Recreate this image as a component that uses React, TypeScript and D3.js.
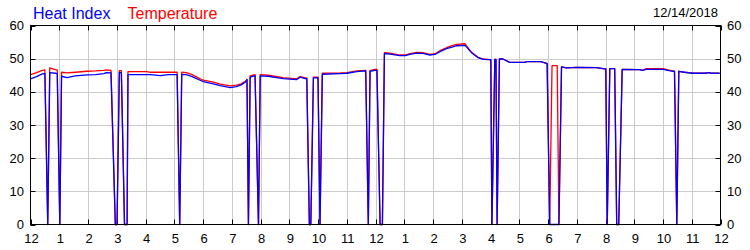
import React from "react";
import * as d3 from "d3";

const hours = [
  0.0, 0.21, 0.41, 0.5, 0.6, 0.67, 0.87, 0.93, 1.02, 1.08,
  1.27, 1.56, 1.97, 2.26, 2.55, 2.64, 2.8, 2.95, 3.01, 3.09,
  3.16, 3.27, 3.36, 3.39, 4.05, 4.17, 4.52, 4.79, 5.1, 5.19,
  5.26, 5.42, 5.62, 5.9, 6.01, 6.36, 6.6, 6.95, 7.16, 7.33,
  7.47, 7.53, 7.58, 7.64, 7.81, 7.93, 7.99, 8.27, 8.79, 9.26,
  9.38, 9.55, 9.61, 9.7, 9.75, 9.84, 10.0, 10.07, 10.15, 10.77,
  11.01, 11.35, 11.64, 11.66, 11.75, 11.81, 11.98, 12.05, 12.16, 12.24,
  12.31, 12.5, 12.85, 13.03, 13.2, 13.43, 13.65, 13.89, 14.07, 14.24,
  14.47, 14.66, 14.82, 15.11, 15.18, 15.34, 15.57, 15.75, 15.98, 16.01,
  16.05, 16.15, 16.19, 16.23, 16.31, 16.43, 16.67, 17.19, 17.26, 17.75,
  17.95, 17.97, 18.06, 18.14, 18.32, 18.38, 18.47, 18.64, 18.99, 19.68,
  19.97, 20.01, 20.06, 20.15, 20.32, 20.39, 20.46, 20.58, 21.19, 21.29,
  21.42, 22.0, 22.17, 22.34, 22.4, 22.48, 22.55, 22.75, 23.04, 23.44,
  23.62, 23.69, 23.97,
];

const temperature = [
  45.2, 45.8, 46.5, 46.6, 0, 47.2, 46.7, 46.6, 0, 45.9,
  45.7, 45.9, 46.2, 46.3, 46.5, 46.6, 46.5, 0, 0, 46.4,
  46.4, 0, 0, 46.1, 46.1, 45.9, 45.9, 45.9, 45.9, 0,
  45.9, 45.8, 45.2, 43.9, 43.5, 42.9, 42.3, 41.8, 42.0, 42.4,
  43.2, 43.6, 0, 44.8, 45.2, 0, 45.2, 45.0, 44.3, 43.9,
  44.6, 44.2, 44.2, 0, 0, 44.4, 44.4, 0, 45.6, 45.7,
  45.8, 46.3, 46.5, 46.5, 0, 46.4, 46.8, 46.8, 0, 0,
  51.8, 51.7, 51.1, 51.1, 51.5, 51.9, 51.8, 51.3, 51.5, 52.4,
  53.3, 53.9, 54.3, 54.5, 53.7, 51.9, 50.4, 49.9, 49.7, 49.7,
  0, 49.8, 49.8, 0, 49.9, 49.9, 48.9, 48.9, 49.1, 49.1,
  48.6, 48.5, 0, 47.9, 47.9, 0, 47.5, 47.2, 47.4, 47.3,
  46.9, 46.9, 0, 47.0, 47.0, 0, 0, 46.8, 46.7, 46.5,
  47.0, 47.0, 46.6, 46.3, 46.2, 0, 46.2, 45.9, 45.6, 45.6,
  45.8, 45.6, 45.6,
];

const heatIndex = [
  43.9, 44.6, 45.4, 45.5, 0, 45.8, 45.6, 45.5, 0, 44.7,
  44.3, 44.8, 45.1, 45.2, 45.5, 45.8, 45.7, 0, 0, 45.8,
  45.8, 0, 0, 45.2, 45.2, 45.2, 44.9, 45.2, 45.2, 0,
  45.2, 45.2, 44.6, 43.5, 43.1, 42.4, 41.9, 41.3, 41.6, 42.1,
  42.9, 43.8, 0, 44.4, 44.9, 0, 44.8, 44.7, 44.0, 43.7,
  44.4, 44.0, 44.0, 0, 0, 44.2, 44.2, 0, 45.3, 45.5,
  45.6, 46.1, 46.3, 46.3, 0, 46.2, 46.5, 46.5, 0, 0,
  51.5, 51.4, 50.9, 50.9, 51.3, 51.7, 51.6, 51.1, 51.3, 52.1,
  53.0, 53.5, 53.9, 54.0, 53.4, 51.8, 50.3, 49.8, 49.7, 49.7,
  0, 49.8, 49.8, 0, 49.9, 49.9, 48.9, 48.9, 49.1, 49.1,
  48.6, 48.5, 0, 0, 0, 0, 47.5, 47.2, 47.4, 47.3,
  46.9, 46.9, 0, 47.0, 47.0, 0, 0, 46.8, 46.7, 46.5,
  46.8, 46.8, 46.5, 46.2, 46.2, 0, 46.2, 45.9, 45.6, 45.6,
  45.8, 45.6, 45.6,
];

const xTickLabels = ["12", "1", "2", "3", "4", "5", "6", "7", "8", "9", "10", "11",
  "12", "1", "2", "3", "4", "5", "6", "7", "8", "9", "10", "11", "12"];
const yTicks = [0, 10, 20, 30, 40, 50, 60];
const dateLabel = "12/14/2018";
const seriesNames = ["Heat Index", "Temperature"];

const W = 750;
const H = 250;
const L = 30.5;
const R = 720.5;
const T = 25.5;
const B = 224.5;
const FONT = "'Liberation Sans', Arial, sans-serif";

export default function App() {
  const x = d3.scaleLinear().domain([0, 24]).range([L, R]);
  const y = d3.scaleLinear().domain([0, 60]).range([B, T]);
  const n = Math.min(hours.length, temperature.length, heatIndex.length);
  const idx = d3.range(n);
  const line = (vals: number[]) =>
    d3
      .line<number>()
      .x((i) => x(hours[i]))
      .y((i) => y(vals[i]))(idx) || "";

  const hourTicks = d3.range(0, 25);

  return (
    <svg
      width={W}
      height={H}
      style={{ position: "absolute", left: 0, top: 0, background: "#fff" }}
      fontFamily={FONT}
    >
      <rect x={0} y={0} width={W} height={H} fill="#fff" />
      {/* grid */}
      {hourTicks.slice(1, -1).map((h) => (
        <line key={"gx" + h} x1={Math.round(x(h)) + 0.5} x2={Math.round(x(h)) + 0.5} y1={T} y2={B} stroke="#cccccc" strokeWidth={1} />
      ))}
      {yTicks.slice(1, -1).map((v) => (
        <line key={"gy" + v} x1={L} x2={R} y1={Math.round(y(v)) + 0.5} y2={Math.round(y(v)) + 0.5} stroke="#cccccc" strokeWidth={1} />
      ))}
      {/* ticks */}
      {hourTicks.map((h) => (
        <g key={"tx" + h}>
          <line x1={Math.round(x(h)) + 0.5} x2={Math.round(x(h)) + 0.5} y1={B} y2={B - 5} stroke="#000" />
          <line x1={Math.round(x(h)) + 0.5} x2={Math.round(x(h)) + 0.5} y1={T} y2={T + 5} stroke="#000" />
        </g>
      ))}
      {yTicks.map((v) => (
        <g key={"ty" + v}>
          <line x1={L} x2={L + 5} y1={Math.round(y(v)) + 0.5} y2={Math.round(y(v)) + 0.5} stroke="#000" />
          <line x1={R} x2={R - 5} y1={Math.round(y(v)) + 0.5} y2={Math.round(y(v)) + 0.5} stroke="#000" />
        </g>
      ))}
      {/* series */}
      <path d={line(temperature)} fill="none" stroke="#ff0000" strokeWidth={1.3} strokeLinejoin="round" />
      <path d={line(heatIndex)} fill="none" stroke="#0000ff" strokeWidth={1.3} strokeLinejoin="round" />
      {/* frame */}
      <rect x={L} y={T} width={R - L} height={B - T} fill="none" stroke="#000" strokeWidth={1} />
      {/* labels */}
      {yTicks.map((v) => (
        <g key={"ly" + v}>
          <text x={24} y={y(v)} dy="0.35em" textAnchor="end" fontSize={13} fill="#000">{v}</text>
          <text x={727} y={y(v)} dy="0.35em" textAnchor="start" fontSize={13} fill="#000">{v}</text>
        </g>
      ))}
      {hourTicks.map((h) => (
        <text key={"lx" + h} x={x(h) + 1} y={242.5} textAnchor="middle" fontSize={13} fill="#000">
          {xTickLabels[h]}
        </text>
      ))}
      <text x={33} y={18.5} fontSize={16} fill="#0000ff">{seriesNames[0]}</text>
      <text x={127.5} y={18.5} fontSize={16} fill="#ff0000">{seriesNames[1]}</text>
      <text x={718} y={17} textAnchor="end" fontSize={13} fill="#000">{dateLabel}</text>
    </svg>
  );
}
